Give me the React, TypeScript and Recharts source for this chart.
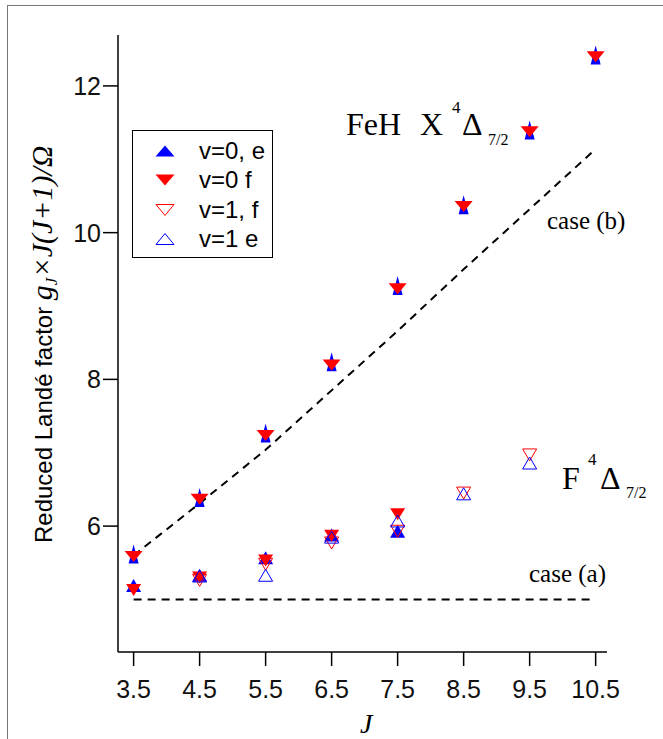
import { ScatterChart, Scatter, XAxis, YAxis, Legend } from "recharts";

// J values and reduced Landé factors
const jUpper = [3.5, 4.5, 5.5, 6.5, 7.5, 8.5, 9.5, 10.5];
const v0eUpper = [5.62, 6.39, 7.27, 8.24, 9.28, 10.38, 11.4, 12.42];
const v0fUpper = [5.6, 6.38, 7.25, 8.21, 9.25, 10.37, 11.39, 12.41];

const jLower = [3.5, 4.5, 5.5, 6.5, 7.5];
const v0eLower = [5.19, 5.33, 5.57, 5.88, 5.93];
const v0fLower = [5.13, 5.3, 5.53, 5.87, 6.16];

const jV1 = [4.5, 5.5, 6.5, 7.5, 8.5, 9.5];
const v1f = [5.26, 5.48, 5.77, 5.93, 6.45, 6.97];
const v1e = [5.32, 5.33, 5.85, 6.07, 6.44, 6.86];

const caseBJ = [3.5, 4.5, 5.5, 6.5, 7.5, 8.5, 9.5, 10.5];
const caseB = [5.6, 6.31, 7.04, 7.85, 8.66, 9.5, 10.32, 11.14];
const caseAJ = [3.5, 10.5];
const caseA = [5.0, 5.0];

const xTicks = [3.5, 4.5, 5.5, 6.5, 7.5, 8.5, 9.5, 10.5];
const yTicks = [6, 8, 10, 12];

const BLUE = "#0000ff";
const RED = "#ff0000";

const pts = (xs: number[], ys: number[], branch: string) =>
  xs.map((J, i) => ({ J, g: ys[i], branch }));

const v0eData = [...pts(jUpper, v0eUpper, "X"), ...pts(jLower, v0eLower, "F")];
const v0fData = [...pts(jUpper, v0fUpper, "X"), ...pts(jLower, v0fLower, "F")];
const v1fData = pts(jV1, v1f, "F");
const v1eData = pts(jV1, v1e, "F");
const caseBData = pts(caseBJ, caseB, "b");
const caseAData = pts(caseAJ, caseA, "a");

const up = (cx: number, cy: number, w: number, h: number) =>
  `M${cx},${cy - h / 2} L${cx + w / 2},${cy + h / 2} L${cx - w / 2},${cy + h / 2} Z`;
const down = (cx: number, cy: number, w: number, h: number) =>
  `M${cx - w / 2},${cy - h / 2} L${cx + w / 2},${cy - h / 2} L${cx},${cy + h / 2} Z`;

const BlueFilled = (p: any) =>
  p.payload?.branch === "X" ? (
    <path d={up(p.cx, p.cy, 10, 19)} fill={BLUE} />
  ) : (
    <path d={up(p.cx, p.cy, 15, 13)} fill={BLUE} />
  );
const RedFilled = (p: any) =>
  p.payload?.branch === "X" ? (
    <path d={down(p.cx, p.cy + 1, 18, 11)} fill={RED} />
  ) : (
    <path d={down(p.cx, p.cy, 15, 12)} fill={RED} />
  );
const RedOpen = (p: any) => (
  <path d={down(p.cx, p.cy, 14, 12)} fill="none" stroke={RED} strokeWidth={1} />
);
const BlueOpen = (p: any) => (
  <path d={up(p.cx, p.cy, 14, 12)} fill="none" stroke={BLUE} strokeWidth={1} />
);
const NoDot = () => <g />;

const legendItems = [
  { label: "v=0, e", kind: "upF" },
  { label: "v=0 f", kind: "downF" },
  { label: "v=1, f", kind: "downO" },
  { label: "v=1 e", kind: "upO" },
];

const renderLegend = () => (
  <div
    style={{
      width: 141,
      height: 128,
      border: "1.5px solid #000",
      boxSizing: "border-box",
      background: "#fff",
      fontFamily: "'Liberation Sans', Arial, sans-serif",
      fontSize: 24,
      color: "#000",
      paddingTop: 5,
      textAlign: "left",
    }}
  >
    {legendItems.map((it) => (
      <div key={it.label} style={{ display: "flex", alignItems: "center", height: 29.5 }}>
        <svg width={60} height={20} style={{ marginLeft: 6 }}>
          {it.kind === "upF" && <path d={up(26, 10, 19, 11)} fill={BLUE} />}
          {it.kind === "downF" && <path d={down(26, 10, 19, 11)} fill={RED} />}
          {it.kind === "downO" && <path d={down(26, 10, 18, 11)} fill="none" stroke={RED} />}
          {it.kind === "upO" && <path d={up(26, 10, 18, 11)} fill="none" stroke={BLUE} />}
        </svg>
        <span>{it.label}</span>
      </div>
    ))}
  </div>
);

const XTick = (p: any) => (
  <text
    x={p.x}
    y={p.y + 30}
    textAnchor="middle"
    fontFamily="'Liberation Sans', Arial, sans-serif"
    fontSize={25}
    fill="#111"
  >
    {p.payload.value}
  </text>
);

const YTick = (p: any) => (
  <text
    x={p.x}
    y={p.y + 9}
    textAnchor="end"
    fontFamily="'Liberation Sans', Arial, sans-serif"
    fontSize={25}
    fill="#111"
  >
    {p.payload.value}
  </text>
);

const serif = "'Liberation Serif', 'Times New Roman', serif";

const Annotations = () => (
  <g fontFamily={serif} fill="#000">
    <text x={346} y={135} fontSize={32}>FeH</text>
    <text x={420} y={135} fontSize={32}>X</text>
    <text x={452} y={113} fontSize={17}>4</text>
    <text x={462} y={135} fontSize={32}>Δ</text>
    <text x={488} y={145} fontSize={16}>7/2</text>

    <text x={547} y={229} fontSize={25}>case (b)</text>

    <text x={562} y={489} fontSize={32}>F</text>
    <text x={588} y={465} fontSize={17}>4</text>
    <text x={600} y={489} fontSize={32}>Δ</text>
    <text x={626} y={498} fontSize={16}>7/2</text>

    <text x={529} y={582} fontSize={25}>case (a)</text>

    <text x={360} y={733} fontSize={28} fontStyle="italic">J</text>

    <text transform="rotate(-90)" x={-543} y={52} fontSize={24}>
      <tspan fontFamily="'Liberation Sans', Arial, sans-serif">Reduced Landé factor </tspan>
      <tspan fontStyle="italic" fontSize={30}>g</tspan>
      <tspan fontStyle="italic" fontSize={17} dy={5}>J</tspan>
      <tspan fontStyle="italic" fontSize={30} dy={-5}>×J(J+1)/Ω</tspan>
    </text>
  </g>
);

export default function App() {
  return (
    <div
      style={{
        position: "absolute",
        left: 0,
        top: 0,
        width: 663,
        height: 739,
        overflow: "hidden",
        background: "#fff",
      }}
    >
      <div
        style={{
          position: "absolute",
          left: 7,
          top: 5,
          width: 700,
          height: 800,
          borderTop: "1.5px solid #777",
          borderLeft: "1.5px solid #777",
        }}
      />
      <ScatterChart
        width={663}
        height={739}
        margin={{ top: 35, right: 56, bottom: 0, left: 0 }}
      >
        <XAxis
          type="number"
          dataKey="J"
          domain={[3.2635, 10.672]}
          ticks={xTicks}
          allowDataOverflow
          height={87}
          tickSize={14}
          axisLine={{ stroke: "#000", strokeWidth: 1.5 }}
          tickLine={{ stroke: "#000", strokeWidth: 1.5 }}
          tick={<XTick />}
        />
        <YAxis
          type="number"
          dataKey="g"
          domain={[4.284, 12.694]}
          ticks={yTicks}
          allowDataOverflow
          width={118}
          tickSize={15}
          axisLine={{ stroke: "#000", strokeWidth: 1.5 }}
          tickLine={{ stroke: "#000", strokeWidth: 1.5 }}
          tick={<YTick />}
        />
        <Legend
          layout="vertical"
          align="center"
          verticalAlign="middle"
          content={renderLegend}
          wrapperStyle={{ left: 132, top: 130, width: 141, height: 128 }}
        />
        <Scatter
          name="case (b)"
          data={caseBData}
          line={{ stroke: "#000", strokeWidth: 2, strokeDasharray: "8 6" }}
          shape={NoDot}
          legendType="none"
          isAnimationActive={false}
        />
        <Scatter
          name="case (a)"
          data={caseAData}
          line={{ stroke: "#000", strokeWidth: 2, strokeDasharray: "8 6" }}
          shape={NoDot}
          legendType="none"
          isAnimationActive={false}
        />
        <Scatter name="v=0, e" data={v0eData} shape={BlueFilled} isAnimationActive={false} />
        <Scatter name="v=0 f" data={v0fData} shape={RedFilled} isAnimationActive={false} />
        <Scatter name="v=1, f" data={v1fData} shape={RedOpen} isAnimationActive={false} />
        <Scatter name="v=1 e" data={v1eData} shape={BlueOpen} isAnimationActive={false} />
        <Annotations />
      </ScatterChart>
    </div>
  );
}
